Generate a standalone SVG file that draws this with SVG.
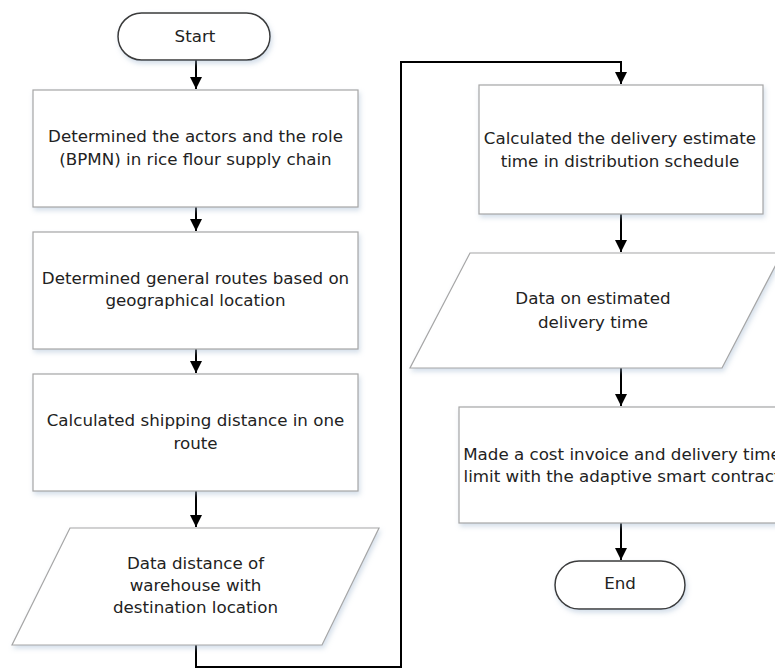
<svg xmlns="http://www.w3.org/2000/svg" width="775" height="668" viewBox="0 0 775 668">
<defs>
<style>
.box{fill:#fff;stroke:#a6a6a6;stroke-width:1.2;filter:url(#sh)}
.term{fill:#fff;stroke:#3a3a3a;stroke-width:1.5;filter:url(#sh)}
.t{font-family:"DejaVu Sans",Verdana,sans-serif;font-size:16.7px;fill:#222;text-anchor:middle}
.c{fill:none;stroke:#000;stroke-width:2}
</style>
<filter id="sh" x="-10%" y="-10%" width="125%" height="130%">
<feDropShadow dx="1.5" dy="3" stdDeviation="2.5" flood-color="#9fb6cf" flood-opacity="0.45"/>
</filter>
<marker id="ah" markerWidth="12" markerHeight="12" viewBox="0 0 12 12" refX="12" refY="6" orient="auto" markerUnits="userSpaceOnUse">
<path d="M0,0 L12,6 L0,12 Z" fill="#000"/>
</marker>
</defs>
<rect width="775" height="668" fill="#fff"/>

<g id="connectors">
<path class="c" d="M196,60 V89" marker-end="url(#ah)"/>
<path class="c" d="M196,207 V231" marker-end="url(#ah)"/>
<path class="c" d="M196,349 V373" marker-end="url(#ah)"/>
<path class="c" d="M196,491 V527" marker-end="url(#ah)"/>
<path class="c" d="M196,645 V667 H401 V62 H621 V84" marker-end="url(#ah)"/>
<path class="c" d="M621,214 V252" marker-end="url(#ah)"/>
<path class="c" d="M621,368 V406" marker-end="url(#ah)"/>
<path class="c" d="M621,523 V560" marker-end="url(#ah)"/>
</g>

<g id="start">
<rect class="term" x="118" y="13" width="152" height="47" rx="23.5"/>
<text class="t" x="195" y="42">Start</text>
</g>

<g id="actors">
<rect class="box" x="33" y="90" width="325" height="117"/>
<text class="t" x="195.5" y="141.5">Determined the actors and the role</text>
<text class="t" x="195.5" y="164.5">(BPMN) in rice flour supply chain</text>
</g>

<g id="routes">
<rect class="box" x="33" y="232" width="325" height="117"/>
<text class="t" x="195.5" y="284">Determined general routes based on</text>
<text class="t" x="195.5" y="306">geographical location</text>
</g>

<g id="distance">
<rect class="box" x="33" y="374" width="325" height="117"/>
<text class="t" x="195.5" y="425.5">Calculated shipping distance in one</text>
<text class="t" x="195.5" y="448.5">route</text>
</g>

<g id="data-distance">
<polygon class="box" points="70,528 379,528 322,645 12,645"/>
<text class="t" x="195.5" y="569">Data distance of</text>
<text class="t" x="195.5" y="591">warehouse with</text>
<text class="t" x="195.5" y="613">destination location</text>
</g>

<g id="estimate">
<rect class="box" x="479" y="85" width="284" height="129"/>
<text class="t" x="620" y="143.5">Calculated the delivery estimate</text>
<text class="t" x="620" y="167">time in distribution schedule</text>
</g>

<g id="data-time">
<polygon class="box" points="470,253 782,253 722,368 410,368"/>
<text class="t" x="593" y="303.5">Data on estimated</text>
<text class="t" x="593" y="327.5">delivery time</text>
</g>

<g id="invoice">
<rect class="box" x="459" y="407" width="326" height="116"/>
<text class="t" x="622" y="459.5">Made a cost invoice and delivery time</text>
<text class="t" x="622" y="482">limit with the adaptive smart contract</text>
</g>

<g id="end">
<rect class="term" x="555" y="561" width="130" height="48" rx="24"/>
<text class="t" x="620" y="589">End</text>
</g>
</svg>
